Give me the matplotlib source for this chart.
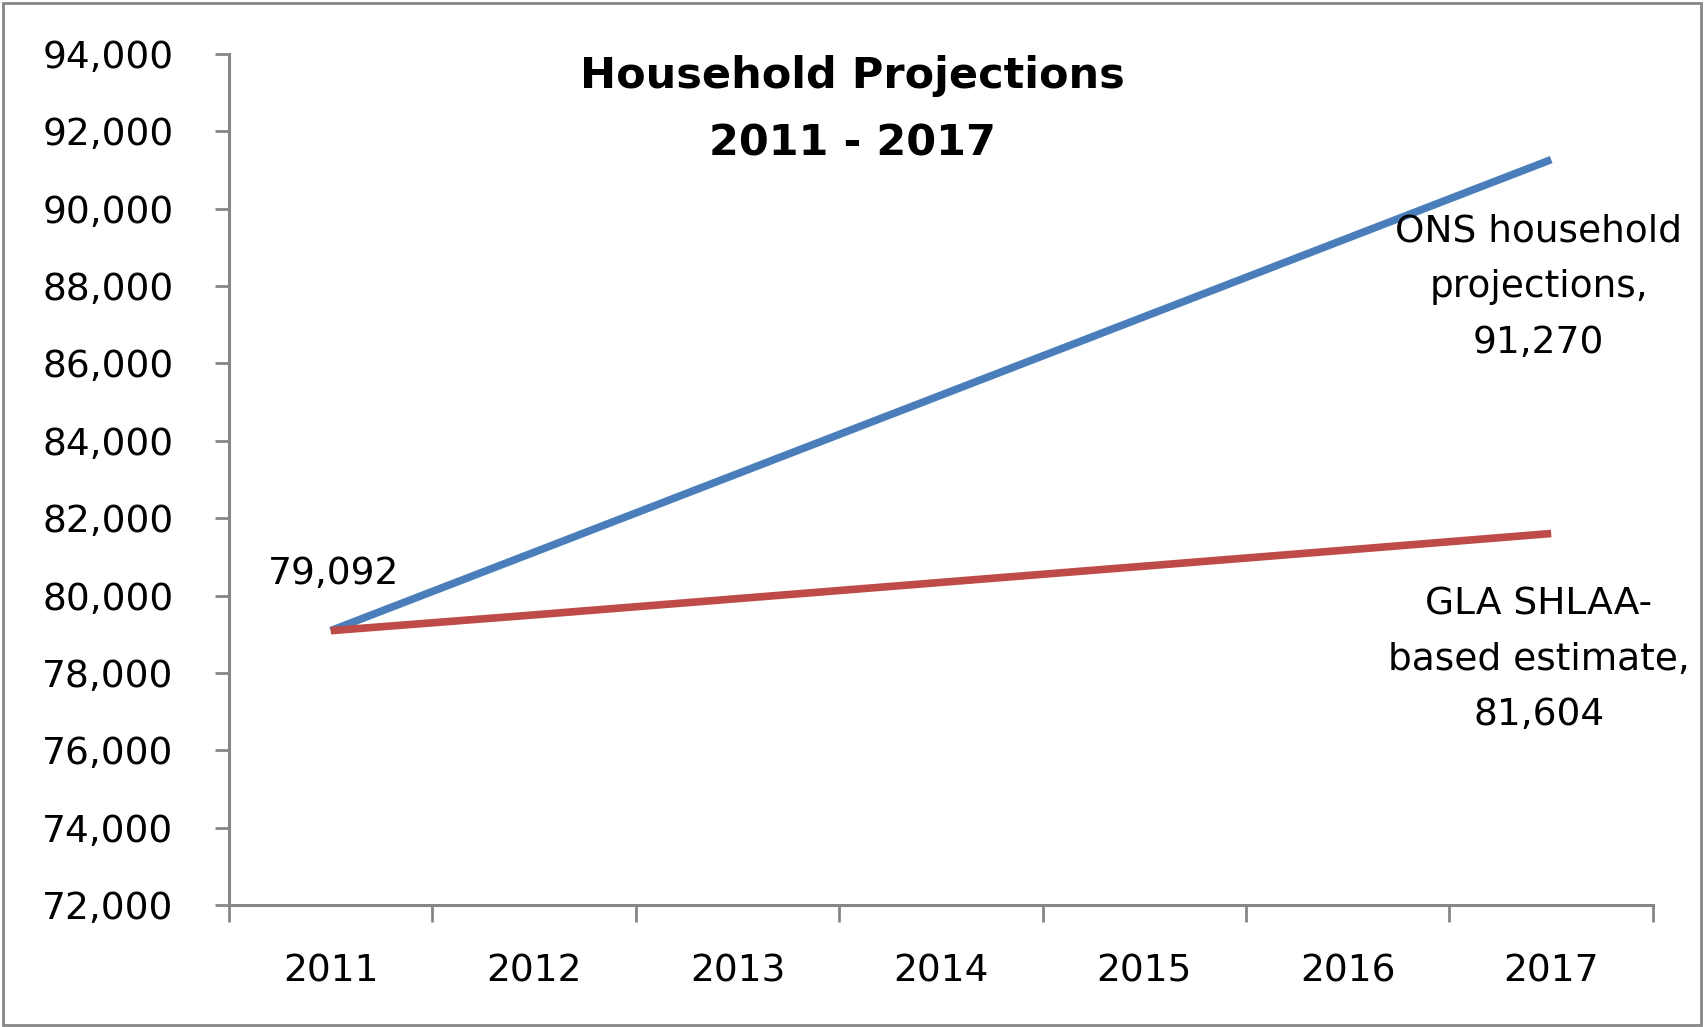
import matplotlib.pyplot as plt
from matplotlib.patches import Rectangle

years = ['2011', '2012', '2013', '2014', '2015', '2016', '2017']
ons = [79092, 81120, 83150, 85180, 87210, 89240, 91270]
gla = [79092, 79500, 79920, 80340, 80760, 81180, 81604]
yticks = list(range(72000, 94001, 2000))

axisGray = '#868686'
fs = 27

fig = plt.figure(figsize=(17.04, 10.27), dpi=100)
ax = fig.add_axes([0.1344, 0.1188, 0.8356, 0.8286])

x = list(range(len(years)))
ax.plot(x, ons, color='#4A7EBB', lw=5.5, solid_capstyle='butt')
ax.plot(x, gla, color='#BE4B48', lw=5.5, solid_capstyle='butt')

ax.set_xlim(-0.5, len(years) - 0.5)
ax.set_ylim(72000, 94000)
ax.set_yticks(yticks)
ax.set_yticklabels(['{:,}'.format(v) for v in yticks], fontsize=fs)

# category axis: ticks between categories, labels at centres
ax.set_xticks([i - 0.5 for i in range(len(years) + 1)])
ax.set_xticklabels([])
ax.set_xticks(x, minor=True)
ax.set_xticklabels(years, minor=True, fontsize=fs)
ax.tick_params(axis='x', which='major', length=12, width=2, color=axisGray, direction='out')
ax.tick_params(axis='x', which='minor', length=0, pad=35)
ax.tick_params(axis='y', length=10, width=2, color=axisGray, direction='out', pad=30)

for s in ['top', 'right']:
    ax.spines[s].set_visible(False)
for s in ['left', 'bottom']:
    ax.spines[s].set_color(axisGray)
    ax.spines[s].set_linewidth(2.2)

fig.text(0.5, 0.946, 'Household Projections\n2011 - 2017',
         ha='center', va='top', fontsize=31, fontweight='bold', linespacing=1.75)

ax.annotate('{:,}'.format(ons[0]), (x[0], ons[0]), xytext=(2, 41), textcoords='offset points',
            ha='center', va='center', fontsize=fs)
ax.annotate('ONS household\nprojections,\n{:,}'.format(ons[-1]), (x[-1], ons[-1]),
            xytext=(-9, -92), textcoords='offset points', ha='center', va='center',
            fontsize=fs, linespacing=1.7)
ax.annotate('GLA SHLAA-\nbased estimate,\n{:,}'.format(gla[-1]), (x[-1], gla[-1]),
            xytext=(-9, -91), textcoords='offset points', ha='center', va='center',
            fontsize=fs, linespacing=1.7)

fig.patches.append(Rectangle((0.0015, 0.002), 0.997, 0.995, transform=fig.transFigure,
                             fill=False, edgecolor=axisGray, lw=2))

fig.savefig('out.png', dpi=100)
